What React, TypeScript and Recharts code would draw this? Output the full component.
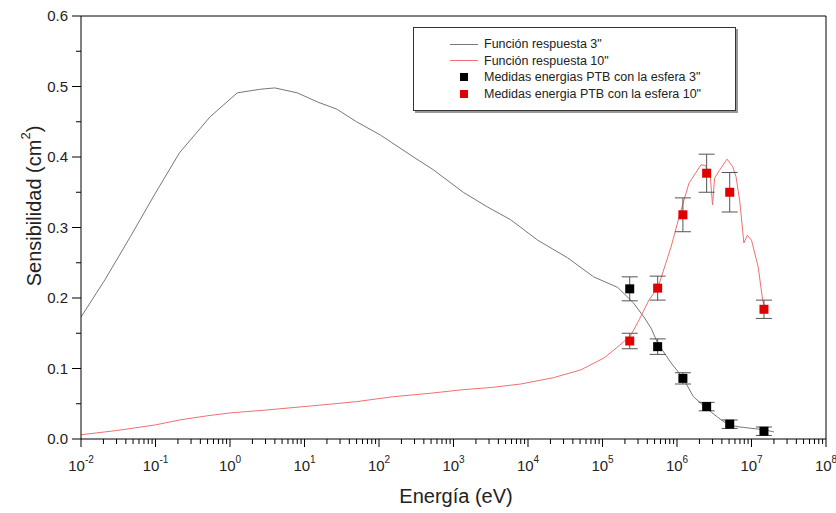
import {
  ComposedChart,
  Line,
  Scatter,
  ErrorBar,
  XAxis,
  YAxis,
  ReferenceLine,
  Legend,
} from "recharts";

const FONT = "'Liberation Sans', Arial, sans-serif";

// Función respuesta 3"
const energy3 = [
  0.01, 0.021, 0.046, 0.1, 0.21, 0.54, 1.25, 2.5, 4, 8, 15, 27, 50, 105, 290,
  535, 1350, 2870, 5860, 13500, 34000, 76000, 1.6e5, 2.6e5, 3.6e5, 4.5e5,
  5.5e5, 8.3e5, 1.2e6, 1.66e6, 2.4e6, 3.5e6, 4.9e6, 7e6, 1.5e7, 2e7,
];
const resp3 = [
  0.173, 0.226, 0.287, 0.349, 0.406, 0.457, 0.491, 0.496, 0.498, 0.491, 0.478,
  0.468, 0.45, 0.431, 0.4, 0.382, 0.35, 0.329, 0.311, 0.282, 0.257, 0.23,
  0.215, 0.193, 0.173, 0.157, 0.136, 0.108, 0.087, 0.06, 0.045, 0.031, 0.02,
  0.017, 0.013, 0.01,
];

// Función respuesta 10"
const energy10 = [
  0.01, 0.03, 0.1, 0.21, 0.5, 1, 3, 16, 50, 155, 500, 1350, 3160, 8000, 2.2e4,
  5.1e4, 1.05e5, 1.7e5, 2.4e5, 3.1e5, 4.2e5, 5.6e5, 8.3e5, 1.1e6, 1.45e6,
  2.1e6, 2.4e6, 2.8e6, 3.0e6, 3.2e6, 3.7e6, 4.7e6, 5.6e6, 6.2e6, 7.0e6, 7.9e6,
  8.8e6, 1.0e7, 1.23e7, 1.4e7, 1.5e7,
];
const resp10 = [
  0.006, 0.012, 0.02, 0.027, 0.033, 0.037, 0.041, 0.048, 0.053, 0.06, 0.065,
  0.07, 0.073, 0.078, 0.087, 0.098, 0.115, 0.133, 0.147, 0.169, 0.197, 0.216,
  0.272, 0.32, 0.363, 0.389, 0.388, 0.372, 0.332, 0.37, 0.381, 0.397, 0.386,
  0.372, 0.335, 0.278, 0.289, 0.282, 0.244, 0.2, 0.183,
];

// Medidas PTB
const energyPTB = [2.32e5, 5.5e5, 1.2e6, 2.5e6, 5.1e6, 1.47e7];
const meas3 = [0.213, 0.131, 0.086, 0.046, 0.021, 0.011];
const err3 = [0.017, 0.011, 0.008, 0.006, 0.006, 0.006];
const meas10 = [0.139, 0.214, 0.318, 0.377, 0.35, 0.184];
const err10 = [0.011, 0.017, 0.024, 0.027, 0.028, 0.013];

const xMajor = [-2, -1, 0, 1, 2, 3, 4, 5, 6, 7, 8];
const xTicks = xMajor.flatMap((e) =>
  e < 8 ? [1, 2, 3, 4, 5, 6, 7, 8, 9].map((m) => m * Math.pow(10, e)) : [Math.pow(10, e)]
);
const yTicks = [0, 0.05, 0.1, 0.15, 0.2, 0.25, 0.3, 0.35, 0.4, 0.45, 0.5, 0.55, 0.6];

const line3 = energy3.map((e, i) => ({ e, v: resp3[i] }));
const line10 = energy10.map((e, i) => ({ e, v: resp10[i] }));
const pts3 = energyPTB.map((e, i) => ({ e, v: meas3[i], err: err3[i] }));
const pts10 = energyPTB.map((e, i) => ({ e, v: meas10[i], err: err10[i] }));

const XTick = (props: any) => {
  const { x, y, payload } = props;
  const lg = Math.log10(payload.value);
  const exp = Math.round(lg);
  const major = Math.abs(lg - exp) < 1e-6;
  return (
    <g>
      <line x1={x} x2={x} y1={y} y2={y + (major ? 8 : 5)} stroke="#000" />
      {major && (
        <text
          x={x}
          y={y + 32}
          textAnchor="middle"
          fontFamily={FONT}
          fontSize={15}
          fill="#222"
        >
          10
          <tspan dy={-8} fontSize={10}>
            {exp}
          </tspan>
        </text>
      )}
    </g>
  );
};

const YTick = (props: any) => {
  const { x, y, payload } = props;
  const v = payload.value;
  const major = Math.round(v * 20) % 2 === 0;
  return (
    <g>
      <line x1={x - (major ? 9 : 5)} x2={x} y1={y} y2={y} stroke="#000" />
      {major && (
        <text
          x={x - 13}
          y={y + 5}
          textAnchor="end"
          fontFamily={FONT}
          fontSize={15}
          fill="#222"
        >
          {v.toFixed(1)}
        </text>
      )}
    </g>
  );
};

const Square = (color: string) => (props: any) => (
  <rect x={props.cx - 4.5} y={props.cy - 4.5} width={9} height={9} fill={color} />
);

const legendItems = [
  { label: 'Función respuesta 3"', kind: "line", color: "#777" },
  { label: 'Función respuesta 10"', kind: "line", color: "#f07070" },
  { label: 'Medidas energias PTB con la esfera 3"', kind: "square", color: "#000" },
  { label: 'Medidas energia PTB con la esfera 10"', kind: "square", color: "#e00000" },
];

const LegendBox = () => (
  <div
    style={{
      border: "1px solid #333",
      boxShadow: "2px 2px 0 #999",
      background: "#fff",
      width: 323,
      height: 84,
      boxSizing: "border-box",
      padding: "8px 0 0 0",
      fontFamily: FONT,
      fontSize: 12.5,
      color: "#222",
    }}
  >
    {legendItems.map((it) => (
      <div
        key={it.label}
        style={{ display: "flex", alignItems: "center", height: 16.5 }}
      >
        <div style={{ width: 36 }} />
        <div style={{ width: 28, display: "flex", justifyContent: "center" }}>
          {it.kind === "line" ? (
            <div style={{ width: 28, height: 1, background: it.color }} />
          ) : (
            <div style={{ width: 8, height: 8, background: it.color }} />
          )}
        </div>
        <span style={{ marginLeft: 6 }}>{it.label}</span>
      </div>
    ))}
  </div>
);

export default function App() {
  return (
    <div
      style={{
        position: "absolute",
        left: 0,
        top: 0,
        width: 836,
        height: 513,
        background: "#fff",
      }}
    >
      <ComposedChart
        width={836}
        height={513}
        margin={{ top: 16, right: 10, left: 0, bottom: 0 }}
      >
        <XAxis
          dataKey="e"
          type="number"
          scale="log"
          domain={[0.01, 1e8]}
          allowDataOverflow
          ticks={xTicks}
          interval={0}
          tick={<XTick />}
          tickLine={false}
          tickSize={0}
          tickMargin={0}
          height={74}
          axisLine={{ stroke: "#000" }}
          label={{
            content: () => (
              <text
                x={456}
                y={503}
                textAnchor="middle"
                fontFamily={FONT}
                fontSize={20}
                fill="#222"
              >
                Energía (eV)
              </text>
            ),
          }}
        />
        <YAxis
          type="number"
          domain={[0, 0.6]}
          ticks={yTicks}
          interval={0}
          tick={<YTick />}
          tickLine={false}
          tickSize={0}
          tickMargin={0}
          width={81}
          axisLine={{ stroke: "#000" }}
          label={{
            content: () => (
              <text
                x={34}
                y={206}
                transform="rotate(-90, 34, 206)"
                textAnchor="middle"
                dominantBaseline="central"
                fontFamily={FONT}
                fontSize={20}
                fill="#222"
              >
                Sensibilidad (cm
                <tspan dy={-9} fontSize={13}>
                  2
                </tspan>
                <tspan dy={9}>)</tspan>
              </text>
            ),
          }}
        />
        <ReferenceLine y={0.6} stroke="#000" ifOverflow="visible" />
        <ReferenceLine x={1e8} stroke="#000" ifOverflow="visible" />
        <Legend
          layout="vertical"
          align="center"
          verticalAlign="middle"
          wrapperStyle={{ left: 413, top: 27, width: 325 }}
          content={<LegendBox />}
        />
        <Line
          data={line3}
          dataKey="v"
          type="linear"
          stroke="#777"
          strokeWidth={1}
          dot={false}
          isAnimationActive={false}
        />
        <Line
          data={line10}
          dataKey="v"
          type="linear"
          stroke="#f07070"
          strokeWidth={1}
          dot={false}
          isAnimationActive={false}
        />
        <Scatter
          data={pts3}
          dataKey="v"
          shape={Square("#000")}
          isAnimationActive={false}
        >
          <ErrorBar dataKey="err" direction="y" width={8} stroke="#555" strokeWidth={1} />
        </Scatter>
        <Scatter
          data={pts10}
          dataKey="v"
          shape={Square("#e00000")}
          isAnimationActive={false}
        >
          <ErrorBar dataKey="err" direction="y" width={8} stroke="#555" strokeWidth={1} />
        </Scatter>
      </ComposedChart>
    </div>
  );
}
